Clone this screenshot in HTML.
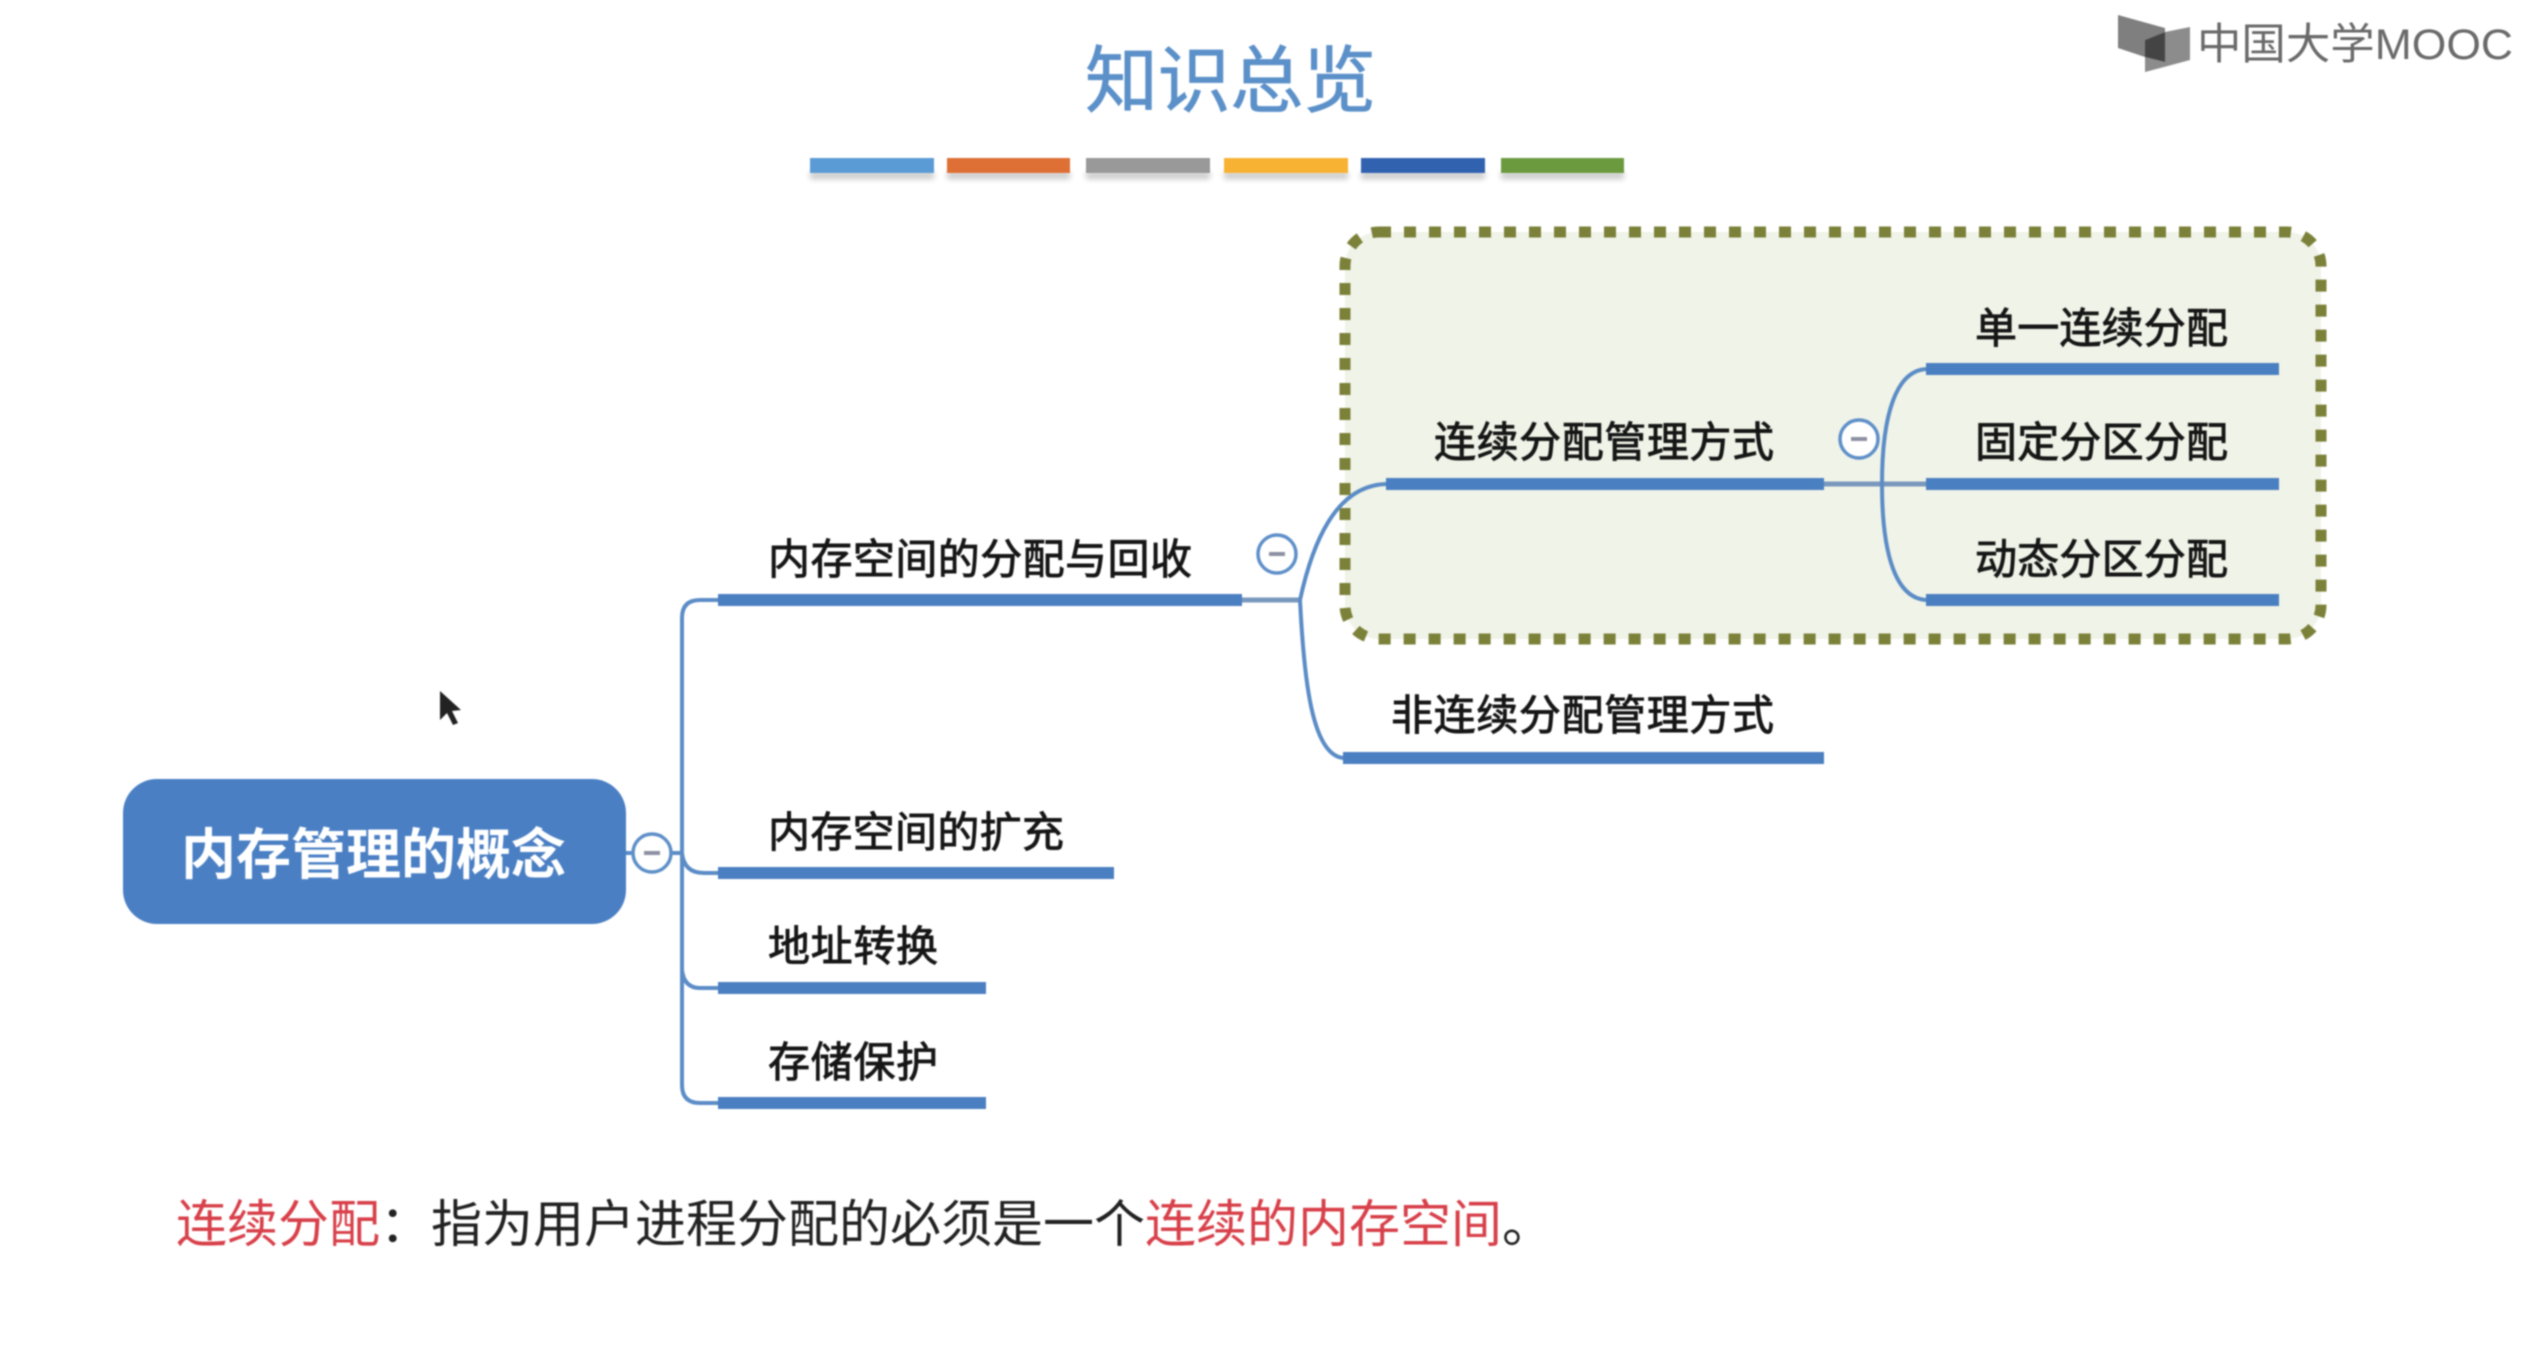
<!DOCTYPE html>
<html lang="zh">
<head>
<meta charset="utf-8">
<title>知识总览</title>
<style>
html,body{margin:0;padding:0;background:#fff;width:2546px;height:1360px;overflow:hidden}
svg{display:block;filter:blur(0.9px)}
text{font-family:"Liberation Sans","Noto Sans CJK SC",sans-serif}
.n{font-size:42px;fill:#161616;stroke:#161616;stroke-width:.9px}
.b{fill:#4a7fc1}
.c{fill:none;stroke:#5b8cc6;stroke-width:4}
.g{fill:none;stroke:#7a98bd;stroke-width:5}
.o{fill:#fff;stroke:#5f90c9;stroke-width:3.5}
.m{fill:#8d90a3}
</style>
</head>
<body>
<svg width="2546" height="1360" viewBox="0 0 2546 1360" xmlns="http://www.w3.org/2000/svg">
<defs>
<filter id="s" x="-10%" y="-100%" width="120%" height="400%"><feGaussianBlur stdDeviation="3"/></filter>
</defs>

<!-- title -->
<text x="1085" y="106" font-size="73" fill="#5b90c9" stroke="#5b90c9" stroke-width=".8" textLength="291" lengthAdjust="spacing">知识总览</text>

<!-- colour bars -->
<g fill="#000" opacity=".22" filter="url(#s)">
<rect x="810" y="172" width="124" height="7"/><rect x="947" y="172" width="123" height="7"/><rect x="1086" y="172" width="124" height="7"/><rect x="1224" y="172" width="124" height="7"/><rect x="1361" y="172" width="124" height="7"/><rect x="1501" y="172" width="123" height="7"/>
</g>
<rect x="810" y="158" width="124" height="15" fill="#5b9bd5"/>
<rect x="947" y="158" width="123" height="15" fill="#de6f35"/>
<rect x="1086" y="158" width="124" height="15" fill="#999999"/>
<rect x="1224" y="158" width="124" height="15" fill="#f7b233"/>
<rect x="1361" y="158" width="124" height="15" fill="#3162b0"/>
<rect x="1501" y="158" width="123" height="15" fill="#6b9a3e"/>

<!-- logo -->
<polygon points="2118,15 2165,28 2165,32 2145,40 2145,57 2118,48" fill="#7f7f7f"/>
<polygon points="2165,32 2190,27 2190,60 2145,72 2145,76 2145,57 2165,62" fill="#8c8c8c"/>
<polygon points="2145,40 2165,32 2165,62 2145,57" fill="#444"/>
<text x="2197" y="59" font-size="43" fill="#6a6a6a" textLength="316" lengthAdjust="spacingAndGlyphs">中国大学MOOC</text>

<!-- dashed group -->
<rect x="1345" y="232" width="976" height="407" rx="34" ry="34" fill="#f0f3e8"/>
<rect x="1345" y="232" width="976" height="407" rx="34" ry="34" fill="none" stroke="#7c8139" stroke-width="11" stroke-dasharray="12 13"/>

<!-- connectors -->
<path class="c" d="M624 853H682"/>
<path class="c" d="M718 600H700Q682 600 682 618V1085Q682 1103 700 1103H718"/>
<path class="c" d="M682 853Q684 873 704 873H718"/>
<path class="c" d="M682 970Q684 988 700 988H718"/>
<path class="g" d="M1242 600H1300"/>
<path class="c" d="M1300 600C1312 545 1335 484 1388 484"/>
<path class="c" d="M1300 600C1304 680 1312 758 1345 758"/>
<path class="g" d="M1824 484H1926"/>
<path class="c" d="M1882 484C1882 415 1896 369 1928 369"/>
<path class="c" d="M1882 484C1882 555 1896 600 1928 600"/>

<!-- root -->
<rect x="123" y="779" width="503" height="145" rx="34" ry="34" fill="#4a7fc4"/>
<text x="181" y="874" font-size="55" font-weight="700" fill="#fff" textLength="385" lengthAdjust="spacing">内存管理的概念</text>

<!-- bars -->
<rect class="b" x="718" y="594" width="524" height="12"/>
<rect class="b" x="718" y="867" width="396" height="12"/>
<rect class="b" x="718" y="982" width="268" height="12"/>
<rect class="b" x="718" y="1097" width="268" height="12"/>
<rect class="b" x="1386" y="478" width="438" height="12"/>
<rect class="b" x="1343" y="752" width="481" height="12"/>
<rect class="b" x="1926" y="363" width="353" height="12"/>
<rect class="b" x="1926" y="478" width="353" height="12"/>
<rect class="b" x="1926" y="594" width="353" height="12"/>

<!-- labels -->
<text class="n" x="768" y="574" textLength="424" lengthAdjust="spacing">内存空间的分配与回收</text>
<text class="n" x="768" y="847" textLength="296" lengthAdjust="spacing">内存空间的扩充</text>
<text class="n" x="768" y="961" textLength="170" lengthAdjust="spacing">地址转换</text>
<text class="n" x="768" y="1077" textLength="170" lengthAdjust="spacing">存储保护</text>
<text class="n" x="1434" y="457" textLength="340" lengthAdjust="spacing">连续分配管理方式</text>
<text class="n" x="1391" y="730" textLength="383" lengthAdjust="spacing">非连续分配管理方式</text>
<text class="n" x="1975" y="343" textLength="253" lengthAdjust="spacing">单一连续分配</text>
<text class="n" x="1975" y="457" textLength="253" lengthAdjust="spacing">固定分区分配</text>
<text class="n" x="1975" y="574" textLength="253" lengthAdjust="spacing">动态分区分配</text>

<!-- collapse buttons -->
<circle class="o" cx="652" cy="853" r="19"/><rect class="m" x="644" y="851" width="16" height="4"/>
<circle class="o" cx="1277" cy="554" r="19"/><rect class="m" x="1269" y="552" width="16" height="4"/>
<circle class="o" cx="1859" cy="439" r="19"/><rect class="m" x="1851" y="437" width="16" height="4"/>

<!-- cursor -->
<polygon points="440,691 440,720 447,713 453,725 458,723 452,711 461,710" fill="#222"/>

<!-- bottom note -->
<text x="176" y="1242" font-size="51" fill="#222" xml:space="preserve"><tspan fill="#d8404a">连续分配</tspan><tspan>：指为用户进程分配的必须是一个</tspan><tspan fill="#d8404a">连续的内存空间</tspan><tspan>。</tspan></text>
</svg>
</body>
</html>
